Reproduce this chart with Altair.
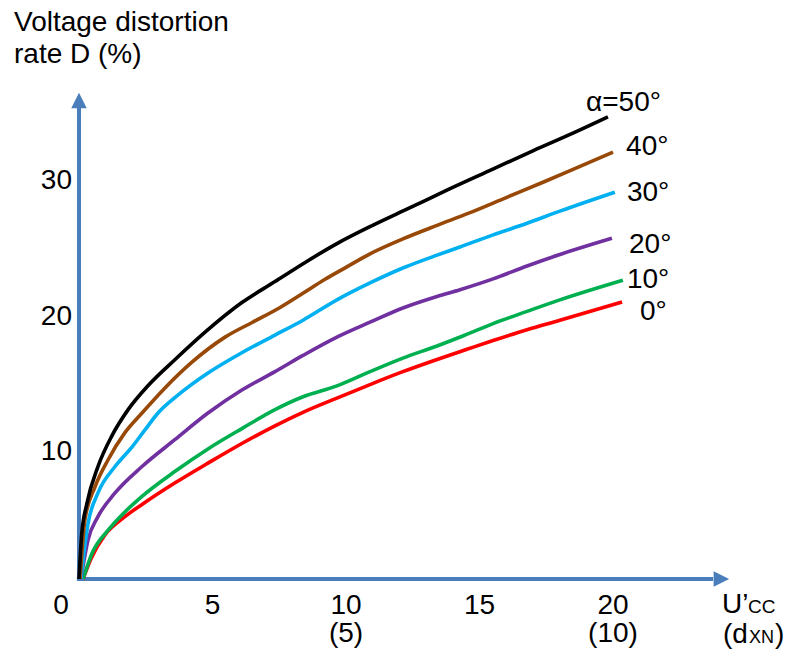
import altair as alt
import pandas as pd

# ---------------- data ----------------
series_names = ["0°", "10°", "20°", "30°", "40°", "50°"]
series_colors = ["#ff0000", "#00b050", "#7030a0", "#00b0f0", "#984807", "#000000"]

x_50 = [0, 0.1, 0.3, 0.71, 1.24, 1.84, 2.6, 3.6, 4.83, 6.1, 7.34, 8.5, 9.66, 11.0, 12.4, 13.78, 15.5, 17.0, 18.5, 19.81]
y_50 = [0, 3.3, 5.6, 8.3, 10.6, 12.5, 14.3, 16.2, 18.4, 20.4, 21.95, 23.4, 24.75, 26.1, 27.4, 28.7, 30.25, 31.6, 32.9, 34.1]

x_40 = [0.04, 0.22, 0.6, 1.09, 1.72, 2.36, 3.22, 4.23, 5.47, 6.5, 7.5, 8.4, 9.2, 10.0, 10.9, 12.13, 13.41, 14.6, 16.0, 17.4, 18.7, 20.0]
y_40 = [0, 4.35, 6.8, 8.8, 10.8, 12.25, 14.1, 16.0, 17.85, 18.95, 20.0, 21.1, 22.1, 23.0, 24.0, 25.1, 26.1, 27.0, 28.15, 29.3, 30.4, 31.5]

x_30 = [0.07, 0.34, 0.71, 1.35, 1.99, 2.47, 2.96, 3.6, 4.83, 6.1, 7.34, 8.39, 9.66, 10.9, 12.13, 13.41, 14.27, 15.51, 16.78, 18.01, 20.07]
y_30 = [0, 4.1, 6.35, 8.3, 9.75, 11.0, 12.25, 13.4, 15.2, 16.7, 18.0, 19.1, 20.6, 21.85, 22.95, 23.9, 24.5, 25.4, 26.25, 27.15, 28.55]

x_20 = [0.07, 0.34, 0.71, 1.35, 2.36, 3.6, 4.83, 6.1, 7.34, 8.39, 9.66, 10.9, 12.13, 13.41, 14.27, 15.51, 16.78, 18.01, 19.96]
y_20 = [0, 2.9, 4.6, 6.35, 8.3, 10.3, 12.25, 13.95, 15.3, 16.5, 17.85, 18.95, 20.0, 20.85, 21.35, 22.15, 23.1, 23.95, 25.15]

x_10 = [0.15, 0.49, 1.09, 1.72, 2.36, 3.6, 4.83, 6.1, 7.34, 8.39, 9.66, 10.9, 12.13, 13.41, 14.4, 15.51, 16.78, 18.01, 20.37]
y_10 = [0, 1.9, 3.6, 4.95, 6.1, 7.95, 9.6, 11.1, 12.5, 13.45, 14.25, 15.3, 16.3, 17.2, 17.95, 18.85, 19.75, 20.6, 22.05]

x_0 = [0.15, 0.45, 0.97, 1.72, 2.36, 3.6, 4.83, 6.1, 7.34, 8.39, 9.66, 10.9, 12.13, 13.41, 14.53, 15.51, 16.78, 18.01, 20.34]
y_0 = [0, 1.5, 3.25, 4.6, 5.5, 7.1, 8.55, 10.0, 11.3, 12.3, 13.35, 14.35, 15.3, 16.2, 16.95, 17.6, 18.4, 19.1, 20.45]

series_x = [x_0, x_10, x_20, x_30, x_40, x_50]
series_y = [y_0, y_10, y_20, y_30, y_40, y_50]

# axis ticks / labels
x_tick_pos = [-0.67, 5, 10, 15, 20]
x_tick_labels = ["0", "5", "10", "15", "20"]
x_tick_pos2 = [10, 20]
x_tick_labels2 = ["(5)", "(10)"]
y_tick_vals = [10, 20, 30]
y_tick_labels = ["10", "20", "30"]

# curve-end labels
curve_label_text = ["α=50°", "40°", "30°", "20°", "10°", "0°"]
curve_label_x = [18.99, 20.49, 20.52, 20.60, 20.52, 21.01]
curve_label_y = [34.56, 31.29, 27.93, 24.06, 21.48, 19.08]

# free text (title and axis name pieces)
free_text = ["Voltage distortion", "rate D (%)", "U’", "CC", "(d", "XN", ")"]
free_x = [-2.434, -2.434, 24.08, 25.06, 24.12, 25.09, 26.07]
free_y = [40.465, 38.059, -2.51, -2.51, -4.72, -4.72, -4.72]
free_size = [28, 28, 28, 19, 28, 18, 28]

# axis arrows (data units)
axis_x_end = 23.75
axis_y_end = 34.76
arrow_x_head = 24.06
arrow_y_head = 35.31

# ---------------- build ----------------
FONT = "Liberation Sans"
AXIS_COLOR = "#4a7ebb"

xs = alt.Scale(domain=[-2.9588, 26.4794], nice=False, zero=False)
ys = alt.Scale(domain=[-5.4613, 42.7306], nice=False, zero=False)

rows = []
for name, xv, yv in zip(series_names, series_x, series_y):
    for i, (a, b) in enumerate(zip(xv, yv)):
        rows.append({"alpha": name, "x": a, "y": b, "i": i})
curves_df = pd.DataFrame(rows)

X = lambda f="x": alt.X(f"{f}:Q", scale=xs, axis=None)
Y = lambda f="y": alt.Y(f"{f}:Q", scale=ys, axis=None)

curves = alt.Chart(curves_df).mark_line(strokeWidth=3.6, interpolate="monotone").encode(
    x=X(), y=Y(),
    color=alt.Color("alpha:N", scale=alt.Scale(domain=series_names, range=series_colors), legend=None),
    order="i:Q",
)

axes_df = pd.DataFrame({
    "x": [-0.08, 0], "x2": [axis_x_end, 0],
    "y": [0, 0], "y2": [0, axis_y_end],
})
axes = alt.Chart(axes_df).mark_rule(color=AXIS_COLOR, strokeWidth=4).encode(
    x=X(), x2="x2:Q", y=Y(), y2="y2:Q"
)

head_r = alt.Chart(pd.DataFrame({"x": [arrow_x_head], "y": [0]})).mark_point(
    shape="M-1,-1L1,0L-1,1Z", size=240, filled=True, color=AXIS_COLOR, opacity=1
).encode(x=X(), y=Y())
head_u = alt.Chart(pd.DataFrame({"x": [0], "y": [arrow_y_head]})).mark_point(
    shape="M-1,1L0,-1L1,1Z", size=240, filled=True, color=AXIS_COLOR, opacity=1
).encode(x=X(), y=Y())

xt1 = alt.Chart(pd.DataFrame({"x": x_tick_pos, "y": [0] * 5, "t": x_tick_labels})).mark_text(
    font=FONT, fontSize=28, align="center", baseline="alphabetic", dy=35, color="black"
).encode(x=X(), y=Y(), text="t:N")
xt2 = alt.Chart(pd.DataFrame({"x": x_tick_pos2, "y": [0] * 2, "t": x_tick_labels2})).mark_text(
    font=FONT, fontSize=28, align="center", baseline="alphabetic", dy=63, color="black"
).encode(x=X(), y=Y(), text="t:N")
yt = alt.Chart(pd.DataFrame({"x": [-0.262] * 3, "y": y_tick_vals, "t": y_tick_labels})).mark_text(
    font=FONT, fontSize=28, align="right", baseline="alphabetic", dy=17, color="black"
).encode(x=X(), y=Y(), text="t:N")

cl = alt.Chart(pd.DataFrame({"x": curve_label_x, "y": curve_label_y, "t": curve_label_text})).mark_text(
    font=FONT, fontSize=28, align="left", baseline="alphabetic", color="black"
).encode(x=X(), y=Y(), text="t:N")

ft = alt.Chart(pd.DataFrame({"x": free_x, "y": free_y, "t": free_text, "s": free_size})).mark_text(
    font=FONT, align="left", baseline="alphabetic", color="black"
).encode(x=X(), y=Y(), text="t:N", size=alt.Size("s:Q", scale=None, legend=None))

chart = alt.layer(axes, head_r, head_u, curves, xt1, xt2, yt, cl, ft).properties(
    width=786, height=653, autosize=alt.AutoSizeParams(type="none"), padding=0,
    background="white",
).configure_view(strokeWidth=0)

chart.save("out.html", embed_options={"renderer": "svg", "actions": False})
